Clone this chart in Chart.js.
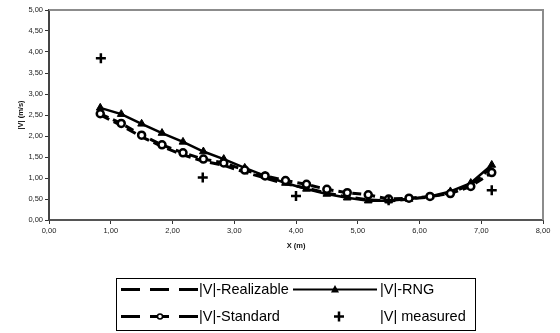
<!DOCTYPE html>
<html><head><meta charset="utf-8">
<script src="https://cdn.jsdelivr.net/npm/chart.js@4.4.1/dist/chart.umd.min.js"></script>
<style>html,body{margin:0;padding:0;background:#fff}#wrap{width:560px;height:333px;position:relative}</style>
</head><body><div id="wrap"><canvas id="c" width="560" height="333"></canvas></div>
<script>
const xPositions = [0.83,1.17,1.50,1.83,2.17,2.50,2.83,3.17,3.50,3.83,4.17,4.50,4.83,5.17,5.50,5.83,6.17,6.50,6.83,7.17];
const realizable = [2.50,2.25,1.98,1.75,1.55,1.40,1.30,1.14,1.00,0.86,0.76,0.64,0.55,0.48,0.45,0.50,0.55,0.65,0.84,1.25];
const rng        = [2.67,2.52,2.29,2.07,1.86,1.63,1.45,1.24,1.05,0.88,0.74,0.62,0.53,0.46,0.46,0.50,0.56,0.68,0.88,1.31];
const standard   = [2.53,2.30,2.02,1.79,1.60,1.45,1.36,1.19,1.05,0.94,0.85,0.73,0.65,0.60,0.50,0.52,0.56,0.63,0.80,1.13];
const measuredX  = [0.84,2.49,4.00,5.50,7.17];
const measuredY  = [3.85,1.01,0.57,0.47,0.71];
const seriesNames = ['|V|-Realizable','|V|-RNG','|V|-Standard','|V| measured'];
const xTitle = 'X (m)';
const yTitle = '|V| (m/s)';

const pts = (xs, ys) => xs.map((x,i)=>({x:x,y:ys[i]}));
const fmt = v => Number(v).toFixed(2).replace('.', ',');
const FONT = "'Liberation Sans', Arial, sans-serif";

const legendPlugin = {
  id: 'customLegend',
  afterDraw(chart){
    const ctx = chart.ctx, a = chart.chartArea;
    ctx.save();
    ctx.strokeStyle = '#8c8c8c'; ctx.lineWidth = 2;
    ctx.beginPath();
    ctx.moveTo(a.left, a.top); ctx.lineTo(a.right, a.top); ctx.lineTo(a.right, a.bottom);
    ctx.stroke();
    ctx.strokeStyle = '#000'; ctx.lineWidth = 1;
    ctx.strokeRect(116.5, 278.5, 359, 52);
    const r1 = 289.5, r2 = 316.5;
    ctx.lineCap = 'butt';
    ctx.lineWidth = 3; ctx.setLineDash([19,10]);
    ctx.beginPath(); ctx.moveTo(121, r1); ctx.lineTo(198, r1); ctx.stroke();
    ctx.beginPath(); ctx.moveTo(121, r2); ctx.lineTo(198, r2); ctx.stroke();
    ctx.setLineDash([]);
    ctx.fillStyle = '#fff'; ctx.lineWidth = 1.5;
    ctx.beginPath(); ctx.arc(160, r2, 2.5, 0, Math.PI*2); ctx.fill(); ctx.stroke();
    ctx.lineWidth = 2;
    ctx.beginPath(); ctx.moveTo(293, r1); ctx.lineTo(377, r1); ctx.stroke();
    ctx.fillStyle = '#000';
    ctx.beginPath(); ctx.moveTo(335, r1-4.5); ctx.lineTo(339, r1+3); ctx.lineTo(331, r1+3); ctx.closePath(); ctx.fill();
    ctx.lineWidth = 2.5;
    ctx.beginPath(); ctx.moveTo(334, r2); ctx.lineTo(344, r2); ctx.moveTo(339, r2-5); ctx.lineTo(339, r2+5); ctx.stroke();
    ctx.fillStyle = '#000'; ctx.font = '14.5px ' + FONT; ctx.textBaseline = 'middle'; ctx.textAlign = 'left';
    ctx.fillText(seriesNames[0], 199, r1);
    ctx.fillText(seriesNames[1], 380, r1);
    ctx.fillText(seriesNames[2], 199, r2);
    ctx.fillText(seriesNames[3], 380, r2);
    ctx.restore();
  }
};

new Chart(document.getElementById('c'), {
  type: 'line',
  data: {
    datasets: [
      { label: seriesNames[3], data: pts(measuredX, measuredY), showLine: false,
        pointStyle: 'cross', pointRadius: 5, pointBorderWidth: 2.5, borderColor: '#000', backgroundColor: '#000' },
      { label: seriesNames[2], data: pts(xPositions, standard), borderColor: '#000', borderWidth: 3, borderDash: [9,5],
        pointStyle: 'circle', pointRadius: 3.5, pointBorderWidth: 2.5, pointBackgroundColor: '#fff', pointBorderColor: '#000', tension: 0 },
      { label: seriesNames[0], data: pts(xPositions, realizable), borderColor: '#000', borderWidth: 3, borderDash: [10,5],
        pointRadius: 0, tension: 0 },
      { label: seriesNames[1], data: pts(xPositions, rng), borderColor: '#000', borderWidth: 2.5,
        pointStyle: 'triangle', pointRadius: 4.5, pointBackgroundColor: '#000', pointBorderColor: '#000', pointBorderWidth: 1, tension: 0 }
    ]
  },
  options: {
    responsive: false, animation: false, devicePixelRatio: 1,
    layout: { padding: { top: 10, right: 17, left: 16, bottom: 83 } },
    plugins: { legend: { display: false }, tooltip: { enabled: false } },
    scales: {
      x: { type: 'linear', min: 0, max: 8,
        ticks: { stepSize: 1, callback: v => fmt(v), font: { size: 7.5, family: FONT }, color: '#222', padding: 2, maxRotation: 0 },
        grid: { drawOnChartArea: false, drawTicks: true, tickLength: 4, color: '#333', tickWidth: 1 },
        border: { display: true, color: '#555', width: 2 },
        title: { display: true, text: xTitle, font: { size: 7.5, weight: 'bold', family: FONT }, color: '#111', padding: 0 },
        afterFit: s => { s.height = 30; } },
      y: { type: 'linear', min: 0, max: 5,
        ticks: { stepSize: 0.5, callback: v => fmt(v), font: { size: 7.5, family: FONT }, color: '#222', padding: 2 },
        grid: { drawOnChartArea: false, drawTicks: true, tickLength: 4, color: '#333', tickWidth: 1 },
        border: { display: true, color: '#444', width: 2 },
        title: { display: true, text: yTitle, font: { size: 7.5, weight: 'bold', family: FONT }, color: '#111', padding: 0 },
        afterFit: s => { s.width = 33; } }
    }
  },
  plugins: [legendPlugin]
});
</script></body></html>
